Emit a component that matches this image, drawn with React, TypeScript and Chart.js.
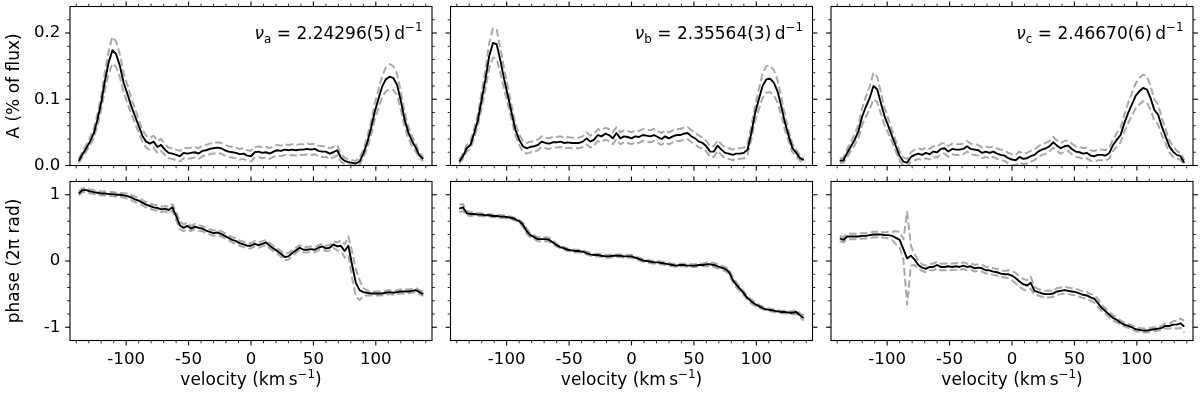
import React, { useEffect, useRef } from "react";
import { Chart, registerables } from "chart.js";

Chart.register(...registerables);

// ---------------- data ----------------
const velocity = [
  -138, -135, -132, -129, -126, -123, -120, -117, -114, -111,
  -108, -105, -102, -99, -96, -93, -90, -87, -84, -81,
  -78, -75, -72, -69, -66, -63, -60, -57, -54, -51,
  -48, -45, -42, -39, -36, -33, -30, -27, -24, -21,
  -18, -15, -12, -9, -6, -3, 0, 3, 6, 9,
  12, 15, 18, 21, 24, 27, 30, 33, 36, 39,
  42, 45, 48, 51, 54, 57, 60, 63, 66, 69,
  72, 75, 78, 81, 84, 87, 90, 93, 96, 99,
  102, 105, 108, 111, 114, 117, 120, 123, 126, 129,
  132, 135, 138,
];

const ampA = [
  0.007, 0.017, 0.026, 0.036, 0.048, 0.069, 0.095, 0.128, 0.156, 0.174,
  0.168, 0.150, 0.125, 0.108, 0.090, 0.075, 0.060, 0.045, 0.036, 0.033,
  0.036, 0.028, 0.031, 0.024, 0.019, 0.018, 0.016, 0.014, 0.019, 0.018,
  0.019, 0.020, 0.018, 0.022, 0.023, 0.025, 0.026, 0.027, 0.026, 0.023,
  0.021, 0.020, 0.019, 0.017, 0.018, 0.015, 0.014, 0.020, 0.021, 0.019,
  0.020, 0.018, 0.021, 0.023, 0.022, 0.024, 0.023, 0.024, 0.023, 0.024,
  0.024, 0.025, 0.024, 0.025, 0.022, 0.021, 0.021, 0.018, 0.020, 0.023,
  0.012, 0.007, 0.005, 0.004, 0.003, 0.006, 0.018, 0.034, 0.055, 0.080,
  0.100, 0.119, 0.130, 0.134, 0.132, 0.122, 0.098, 0.070, 0.050, 0.037,
  0.027, 0.015, 0.010,
];
const ampAErr = [
  0.003, 0.004, 0.005, 0.006, 0.007, 0.009, 0.011, 0.014, 0.017, 0.020,
  0.019, 0.017, 0.015, 0.014, 0.012, 0.011, 0.010, 0.009, 0.009, 0.009,
  0.009, 0.009, 0.009, 0.008, 0.008, 0.008, 0.008, 0.008, 0.008, 0.008,
  0.008, 0.008, 0.008, 0.008, 0.008, 0.008, 0.008, 0.008, 0.008, 0.008,
  0.008, 0.008, 0.008, 0.008, 0.008, 0.008, 0.008, 0.008, 0.008, 0.008,
  0.008, 0.008, 0.008, 0.008, 0.008, 0.008, 0.008, 0.008, 0.008, 0.008,
  0.008, 0.008, 0.008, 0.008, 0.008, 0.008, 0.008, 0.008, 0.008, 0.008,
  0.006, 0.005, 0.004, 0.004, 0.004, 0.005, 0.006, 0.008, 0.010, 0.012,
  0.014, 0.016, 0.018, 0.019, 0.018, 0.016, 0.014, 0.011, 0.009, 0.007,
  0.006, 0.004, 0.003,
];

const ampB = [
  0.006, 0.014, 0.026, 0.031, 0.049, 0.069, 0.100, 0.130, 0.165, 0.185,
  0.183, 0.158, 0.130, 0.105, 0.079, 0.054, 0.039, 0.029, 0.026, 0.028,
  0.029, 0.031, 0.036, 0.034, 0.033, 0.035, 0.035, 0.036, 0.034, 0.035,
  0.034, 0.034, 0.034, 0.036, 0.041, 0.036, 0.039, 0.046, 0.044, 0.048,
  0.046, 0.041, 0.049, 0.041, 0.044, 0.043, 0.041, 0.044, 0.043, 0.046,
  0.045, 0.044, 0.046, 0.043, 0.040, 0.044, 0.041, 0.044, 0.046, 0.046,
  0.048, 0.049, 0.044, 0.041, 0.036, 0.034, 0.029, 0.021, 0.021, 0.030,
  0.024, 0.019, 0.018, 0.016, 0.018, 0.018, 0.019, 0.024, 0.049, 0.079,
  0.100, 0.120, 0.130, 0.131, 0.125, 0.112, 0.089, 0.064, 0.044, 0.026,
  0.019, 0.011, 0.008,
];
const ampBErr = [
  0.003, 0.004, 0.005, 0.006, 0.007, 0.009, 0.012, 0.015, 0.019, 0.022,
  0.022, 0.019, 0.016, 0.013, 0.011, 0.009, 0.008, 0.008, 0.008, 0.008,
  0.008, 0.008, 0.008, 0.008, 0.008, 0.008, 0.008, 0.008, 0.008, 0.008,
  0.008, 0.008, 0.008, 0.008, 0.009, 0.009, 0.009, 0.009, 0.009, 0.009,
  0.009, 0.009, 0.009, 0.009, 0.009, 0.009, 0.009, 0.009, 0.009, 0.009,
  0.009, 0.009, 0.009, 0.009, 0.009, 0.009, 0.009, 0.009, 0.009, 0.009,
  0.009, 0.009, 0.009, 0.009, 0.009, 0.008, 0.008, 0.008, 0.008, 0.008,
  0.008, 0.008, 0.008, 0.008, 0.008, 0.008, 0.008, 0.008, 0.010, 0.012,
  0.015, 0.018, 0.020, 0.020, 0.019, 0.017, 0.014, 0.011, 0.008, 0.006,
  0.005, 0.004, 0.003,
];

const ampC = [
  0.007, 0.008, 0.019, 0.029, 0.039, 0.052, 0.074, 0.089, 0.102, 0.120,
  0.115, 0.094, 0.074, 0.059, 0.044, 0.029, 0.014, 0.006, 0.004, 0.013,
  0.016, 0.018, 0.016, 0.019, 0.017, 0.021, 0.020, 0.025, 0.026, 0.021,
  0.025, 0.024, 0.024, 0.025, 0.029, 0.025, 0.024, 0.023, 0.019, 0.021,
  0.019, 0.021, 0.018, 0.016, 0.015, 0.011, 0.009, 0.008, 0.013, 0.010,
  0.011, 0.014, 0.016, 0.021, 0.024, 0.026, 0.029, 0.035, 0.030, 0.026,
  0.029, 0.030, 0.025, 0.021, 0.020, 0.018, 0.019, 0.015, 0.014, 0.016,
  0.016, 0.015, 0.019, 0.031, 0.039, 0.046, 0.064, 0.079, 0.092, 0.105,
  0.112, 0.117, 0.115, 0.102, 0.084, 0.077, 0.059, 0.044, 0.029, 0.021,
  0.016, 0.014, 0.004,
];
const ampCErr = [
  0.003, 0.004, 0.006, 0.007, 0.008, 0.010, 0.013, 0.015, 0.017, 0.020,
  0.019, 0.016, 0.013, 0.011, 0.009, 0.008, 0.007, 0.006, 0.006, 0.007,
  0.008, 0.008, 0.008, 0.008, 0.008, 0.008, 0.008, 0.008, 0.008, 0.008,
  0.008, 0.008, 0.008, 0.008, 0.008, 0.008, 0.008, 0.008, 0.008, 0.008,
  0.008, 0.008, 0.008, 0.008, 0.008, 0.008, 0.008, 0.008, 0.008, 0.008,
  0.008, 0.008, 0.008, 0.008, 0.008, 0.008, 0.008, 0.008, 0.008, 0.008,
  0.008, 0.008, 0.008, 0.008, 0.008, 0.008, 0.008, 0.008, 0.008, 0.008,
  0.008, 0.008, 0.008, 0.009, 0.010, 0.011, 0.013, 0.015, 0.017, 0.019,
  0.020, 0.020, 0.020, 0.018, 0.016, 0.015, 0.013, 0.011, 0.009, 0.008,
  0.006, 0.005, 0.004,
];

const phaseA = [
  1.02, 1.07, 1.07, 1.05, 1.04, 1.03, 1.02, 1.02, 1.01, 1.01,
  1.00, 1.00, 0.99, 0.98, 0.96, 0.93, 0.91, 0.88, 0.85, 0.83,
  0.81, 0.80, 0.78, 0.79, 0.77, 0.81, 0.68, 0.54, 0.50, 0.53,
  0.49, 0.52, 0.50, 0.49, 0.46, 0.44, 0.42, 0.43, 0.41, 0.38,
  0.35, 0.32, 0.30, 0.27, 0.25, 0.23, 0.23, 0.26, 0.24, 0.26,
  0.28, 0.23, 0.19, 0.15, 0.11, 0.06, 0.07, 0.12, 0.16, 0.20,
  0.17, 0.17, 0.18, 0.17, 0.20, 0.22, 0.19, 0.20, 0.25, 0.22,
  0.23, 0.15, 0.23, -0.06, -0.33, -0.44, -0.47, -0.48, -0.49, -0.49,
  -0.49, -0.49, -0.48, -0.47, -0.48, -0.47, -0.46, -0.46, -0.46, -0.45,
  -0.44, -0.47, -0.50,
];
const phaseAErr = [
  0.03, 0.03, 0.03, 0.03, 0.03, 0.03, 0.03, 0.03, 0.03, 0.03,
  0.03, 0.03, 0.03, 0.04, 0.04, 0.04, 0.04, 0.04, 0.04, 0.04,
  0.04, 0.04, 0.04, 0.04, 0.05, 0.05, 0.06, 0.06, 0.05, 0.05,
  0.04, 0.04, 0.04, 0.04, 0.04, 0.04, 0.04, 0.04, 0.04, 0.04,
  0.04, 0.04, 0.04, 0.04, 0.04, 0.04, 0.04, 0.04, 0.04, 0.04,
  0.04, 0.04, 0.04, 0.04, 0.04, 0.05, 0.05, 0.05, 0.04, 0.04,
  0.04, 0.04, 0.04, 0.04, 0.04, 0.04, 0.04, 0.04, 0.05, 0.06,
  0.08, 0.10, 0.14, 0.20, 0.20, 0.15, 0.06, 0.04, 0.03, 0.03,
  0.03, 0.03, 0.03, 0.03, 0.03, 0.03, 0.03, 0.03, 0.03, 0.03,
  0.03, 0.03, 0.03,
];

const phaseB = [
  0.79, 0.81, 0.72, 0.71, 0.71, 0.70, 0.70, 0.69, 0.69, 0.68,
  0.68, 0.67, 0.67, 0.66, 0.65, 0.63, 0.60, 0.55, 0.45, 0.39,
  0.36, 0.33, 0.33, 0.33, 0.32, 0.28, 0.24, 0.21, 0.19, 0.17,
  0.16, 0.15, 0.15, 0.14, 0.12, 0.10, 0.09, 0.09, 0.08, 0.07,
  0.07, 0.08, 0.08, 0.08, 0.07, 0.07, 0.07, 0.05, 0.03, 0.01,
  0.00, -0.01, -0.02, -0.02, -0.03, -0.04, -0.05, -0.06, -0.07, -0.06,
  -0.06, -0.07, -0.07, -0.07, -0.06, -0.06, -0.05, -0.05, -0.06, -0.08,
  -0.10, -0.12, -0.16, -0.28, -0.36, -0.42, -0.49, -0.56, -0.61, -0.65,
  -0.68, -0.71, -0.73, -0.74, -0.75, -0.76, -0.77, -0.77, -0.78, -0.78,
  -0.77, -0.82, -0.86,
];
const phaseBErr = [
  0.06, 0.05, 0.03, 0.03, 0.02, 0.02, 0.02, 0.02, 0.02, 0.02,
  0.02, 0.02, 0.02, 0.02, 0.02, 0.02, 0.02, 0.03, 0.04, 0.03,
  0.03, 0.03, 0.03, 0.03, 0.03, 0.03, 0.02, 0.02, 0.02, 0.02,
  0.02, 0.02, 0.02, 0.02, 0.02, 0.02, 0.02, 0.02, 0.02, 0.02,
  0.02, 0.02, 0.02, 0.02, 0.02, 0.02, 0.02, 0.02, 0.02, 0.02,
  0.02, 0.02, 0.02, 0.02, 0.02, 0.02, 0.02, 0.02, 0.02, 0.02,
  0.02, 0.02, 0.02, 0.02, 0.02, 0.02, 0.03, 0.03, 0.03, 0.03,
  0.03, 0.03, 0.03, 0.04, 0.04, 0.03, 0.03, 0.03, 0.03, 0.03,
  0.02, 0.02, 0.02, 0.02, 0.02, 0.02, 0.02, 0.02, 0.02, 0.02,
  0.03, 0.03, 0.04,
];

const phaseC = [
  0.34, 0.32, 0.37, 0.37, 0.37, 0.37, 0.38, 0.38, 0.39, 0.40,
  0.40, 0.40, 0.39, 0.39, 0.38, 0.35, 0.32, 0.18, 0.04, 0.08,
  0.02, -0.06, -0.10, -0.12, -0.09, -0.09, -0.06, -0.09, -0.09, -0.08,
  -0.09, -0.08, -0.09, -0.07, -0.09, -0.08, -0.11, -0.10, -0.11, -0.14,
  -0.14, -0.16, -0.17, -0.19, -0.20, -0.20, -0.22, -0.26, -0.31, -0.35,
  -0.37, -0.33, -0.45, -0.47, -0.49, -0.50, -0.50, -0.49, -0.46, -0.45,
  -0.44, -0.45, -0.46, -0.47, -0.49, -0.51, -0.52, -0.55, -0.57, -0.64,
  -0.71, -0.76, -0.81, -0.86, -0.89, -0.93, -0.96, -0.98, -1.00, -1.03,
  -1.04, -1.05, -1.05, -1.04, -1.03, -1.02, -1.01, -0.98, -0.98, -0.96,
  -0.96, -0.94, -0.99,
];
const phaseCErr = [
  0.04, 0.04, 0.04, 0.04, 0.04, 0.04, 0.04, 0.04, 0.04, 0.04,
  0.04, 0.04, 0.04, 0.05, 0.06, 0.10, 0.12, 0.15, 0.70, 0.15,
  0.08, 0.06, 0.05, 0.05, 0.05, 0.05, 0.05, 0.05, 0.05, 0.05,
  0.05, 0.05, 0.05, 0.05, 0.05, 0.05, 0.05, 0.05, 0.05, 0.05,
  0.05, 0.05, 0.05, 0.05, 0.05, 0.06, 0.07, 0.08, 0.08, 0.08,
  0.08, 0.09, 0.06, 0.05, 0.05, 0.05, 0.05, 0.05, 0.05, 0.05,
  0.05, 0.05, 0.05, 0.05, 0.05, 0.05, 0.05, 0.05, 0.06, 0.06,
  0.05, 0.04, 0.04, 0.04, 0.04, 0.03, 0.03, 0.03, 0.03, 0.03,
  0.03, 0.03, 0.03, 0.03, 0.03, 0.03, 0.03, 0.04, 0.04, 0.05,
  0.06, 0.07, 0.09,
];

// ---------------- axes / labels ----------------
const xRange = [-145, 145];
const xMajorTicks = [-100, -50, 0, 50, 100];
const xTickLabels = ["-100", "-50", "0", "50", "100"];
const xMinorTicks = [-140, -130, -120, -110, -90, -80, -70, -60, -40, -30, -20, -10, 10, 20, 30, 40, 60, 70, 80, 90, 110, 120, 130, 140];

const ampRange = [0, 0.24];
const ampMajorTicks = [0, 0.1, 0.2];
const ampTickLabels = ["0.0", "0.1", "0.2"];
const ampMinorTicks = [0.02, 0.04, 0.06, 0.08, 0.12, 0.14, 0.16, 0.18, 0.22];

const phaseRange = [-1.2, 1.2];
const phaseMajorTicks = [-1, 0, 1];
const phaseTickLabels = ["-1", "0", "1"];
const phaseMinorTicks = [-0.8, -0.6, -0.4, -0.2, 0.2, 0.4, 0.6, 0.8];

const freqSubscripts = ["a", "b", "c"];
const freqValues = ["2.24296(5)", "2.35564(3)", "2.46670(6)"];

const ampTitle = "A (% of flux)";
const phaseTitle = "phase (2\u03c0 rad)";
const velocityTitle = "velocity (km\u2009s";

// ---------------- layout (pixels) ----------------
const W = 1200;
const H = 393;
const colLeft = [70, 450.5, 831];
const colWidth = 362;
const rowTop = [6.5, 181.5];
const rowHeight = 159;

const FONT = '"DejaVu Sans", "Liberation Sans", sans-serif';
const TICK_FONT = 16.6;
const TITLE_FONT = 17;
const ANNOT_FONT = 17;

type Seg = { t: string; scale?: number; dy?: number; italic?: boolean };

function fontFor(s: Seg, size: number) {
  return `${s.italic ? "italic " : ""}${(size * (s.scale || 1)).toFixed(2)}px ${FONT}`;
}

function drawRich(ctx: CanvasRenderingContext2D, segs: Seg[], x: number, y: number, size: number, align: "left" | "right" | "center") {
  ctx.textAlign = "left";
  ctx.textBaseline = "alphabetic";
  const widths = segs.map((s) => {
    ctx.font = fontFor(s, size);
    return ctx.measureText(s.t).width;
  });
  const total = widths.reduce((a, b) => a + b, 0);
  let cx = align === "right" ? x - total : align === "center" ? x - total / 2 : x;
  segs.forEach((s, i) => {
    ctx.font = fontFor(s, size);
    ctx.fillText(s.t, cx, y + (s.dy || 0) * size);
    cx += widths[i];
  });
}

type Panel = { row: number; col: number; mean: number[]; err: number[] };

const PANELS: Panel[] = [
  { row: 0, col: 0, mean: ampA, err: ampAErr },
  { row: 0, col: 1, mean: ampB, err: ampBErr },
  { row: 0, col: 2, mean: ampC, err: ampCErr },
  { row: 1, col: 0, mean: phaseA, err: phaseAErr },
  { row: 1, col: 1, mean: phaseB, err: phaseBErr },
  { row: 1, col: 2, mean: phaseC, err: phaseCErr },
];

function makeFramePlugin(p: Panel) {
  return {
    id: "frame" + p.row + p.col,
    afterDraw(chart: any) {
      const ctx: CanvasRenderingContext2D = chart.ctx;
      const { left, right, top, bottom } = chart.chartArea;
      const xs = chart.scales.x;
      const ys = chart.scales.y;
      const isAmp = p.row === 0;
      const yMajor = isAmp ? ampMajorTicks : phaseMajorTicks;
      const yMinor = isAmp ? ampMinorTicks : phaseMinorTicks;
      const yLabels = isAmp ? ampTickLabels : phaseTickLabels;

      ctx.save();
      ctx.strokeStyle = "#000";
      ctx.fillStyle = "#000";
      ctx.lineCap = "butt";

      const seg = (x1: number, y1: number, x2: number, y2: number, lw: number) => {
        ctx.lineWidth = lw;
        ctx.beginPath();
        ctx.moveTo(x1, y1);
        ctx.lineTo(x2, y2);
        ctx.stroke();
      };
      const MAJ = 4.9;
      const MIN = 2.8;
      const MAJW = 1.1;
      const MINW = 0.85;

      xMajorTicks.forEach((v) => {
        const px = xs.getPixelForValue(v);
        seg(px, bottom, px, bottom + MAJ, MAJW);
        seg(px, top, px, top - MAJ, MAJW);
      });
      xMinorTicks.forEach((v) => {
        const px = xs.getPixelForValue(v);
        seg(px, bottom, px, bottom + MIN, MINW);
        seg(px, top, px, top - MIN, MINW);
      });
      yMajor.forEach((v) => {
        const py = ys.getPixelForValue(v);
        seg(left, py, left - MAJ, py, MAJW);
        seg(right, py, right + MAJ, py, MAJW);
      });
      yMinor.forEach((v) => {
        const py = ys.getPixelForValue(v);
        seg(left, py, left - MIN, py, MINW);
        seg(right, py, right + MIN, py, MINW);
      });

      // spines
      ctx.lineWidth = 1.1;
      ctx.strokeRect(left, top, right - left, bottom - top);

      // y tick labels and title (left column)
      if (p.col === 0) {
        ctx.font = `${TICK_FONT}px ${FONT}`;
        ctx.textAlign = "right";
        ctx.textBaseline = "middle";
        yMajor.forEach((v, i) => {
          ctx.fillText(yLabels[i], left - 9.7, ys.getPixelForValue(v));
        });
        ctx.save();
        ctx.translate(18.5, (top + bottom) / 2);
        ctx.rotate(-Math.PI / 2);
        drawRich(ctx, [{ t: isAmp ? ampTitle : phaseTitle }], 0, 0, TITLE_FONT, "center");
        ctx.restore();
      }

      // x tick labels and title (bottom row)
      if (p.row === 1) {
        ctx.font = `${TICK_FONT}px ${FONT}`;
        ctx.textAlign = "center";
        ctx.textBaseline = "alphabetic";
        xMajorTicks.forEach((v, i) => {
          ctx.fillText(xTickLabels[i], xs.getPixelForValue(v), bottom + 23.5);
        });
        drawRich(
          ctx,
          [{ t: velocityTitle }, { t: "\u22121", scale: 0.7, dy: -0.42 }, { t: ")" }],
          (left + right) / 2,
          384.8,
          TITLE_FONT,
          "center"
        );
      }

      // frequency annotation (top row)
      if (p.row === 0) {
        drawRich(
          ctx,
          [
            { t: "\u03bd", italic: true },
            { t: freqSubscripts[p.col], scale: 0.7, dy: 0.22 },
            { t: " = " + freqValues[p.col] + "\u2009d" },
            { t: "\u22121", scale: 0.7, dy: -0.45 },
          ],
          right - 9.5,
          38.8,
          ANNOT_FONT,
          "right"
        );
      }
      ctx.restore();
    },
  };
}

function makeConfig(p: Panel): any {
  const mk = (vals: number[]) => velocity.map((v, i) => ({ x: v, y: vals[i] }));
  const upper = p.mean.map((m, i) => m + p.err[i]);
  const lower = p.mean.map((m, i) => m - p.err[i]);
  const left = colLeft[p.col];
  const top = rowTop[p.row];
  const yr = p.row === 0 ? ampRange : phaseRange;
  const dashed = {
    borderColor: "#a9a9a9",
    borderWidth: 2,
    borderDash: [7.5, 3.3],
    borderJoinStyle: "round",
    pointRadius: 0,
    fill: false,
    tension: 0,
  };
  return {
    type: "line",
    data: {
      datasets: [
        {
          data: mk(p.mean),
          borderColor: "#000",
          borderWidth: 1.9,
          borderJoinStyle: "round",
          pointRadius: 0,
          fill: false,
          tension: 0,
        },
        { ...dashed, data: mk(upper) },
        { ...dashed, data: mk(lower) },
      ],
    },
    options: {
      animation: false,
      responsive: false,
      events: [],
      layout: {
        padding: {
          left: left,
          top: top,
          right: W - (left + colWidth),
          bottom: H - (top + rowHeight),
        },
      },
      plugins: {
        legend: { display: false },
        tooltip: { enabled: false },
        title: { display: false },
      },
      scales: {
        x: { type: "linear", min: xRange[0], max: xRange[1], display: false },
        y: { type: "linear", min: yr[0], max: yr[1], display: false },
      },
    },
    plugins: [makeFramePlugin(p)],
  };
}

export default function App() {
  const refs = useRef<(HTMLCanvasElement | null)[]>([]);
  useEffect(() => {
    const charts = PANELS.map((p, i) => new Chart(refs.current[i] as HTMLCanvasElement, makeConfig(p)));
    return () => {
      charts.forEach((c) => c.destroy());
    };
  }, []);
  return (
    <div style={{ position: "absolute", left: 0, top: 0, width: W, height: H, background: "#fff", overflow: "hidden" }}>
      {PANELS.map((p, i) => (
        <canvas
          key={i}
          ref={(el) => {
            refs.current[i] = el;
          }}
          width={W}
          height={H}
          style={{ position: "absolute", left: 0, top: 0, width: W, height: H }}
        />
      ))}
    </div>
  );
}
